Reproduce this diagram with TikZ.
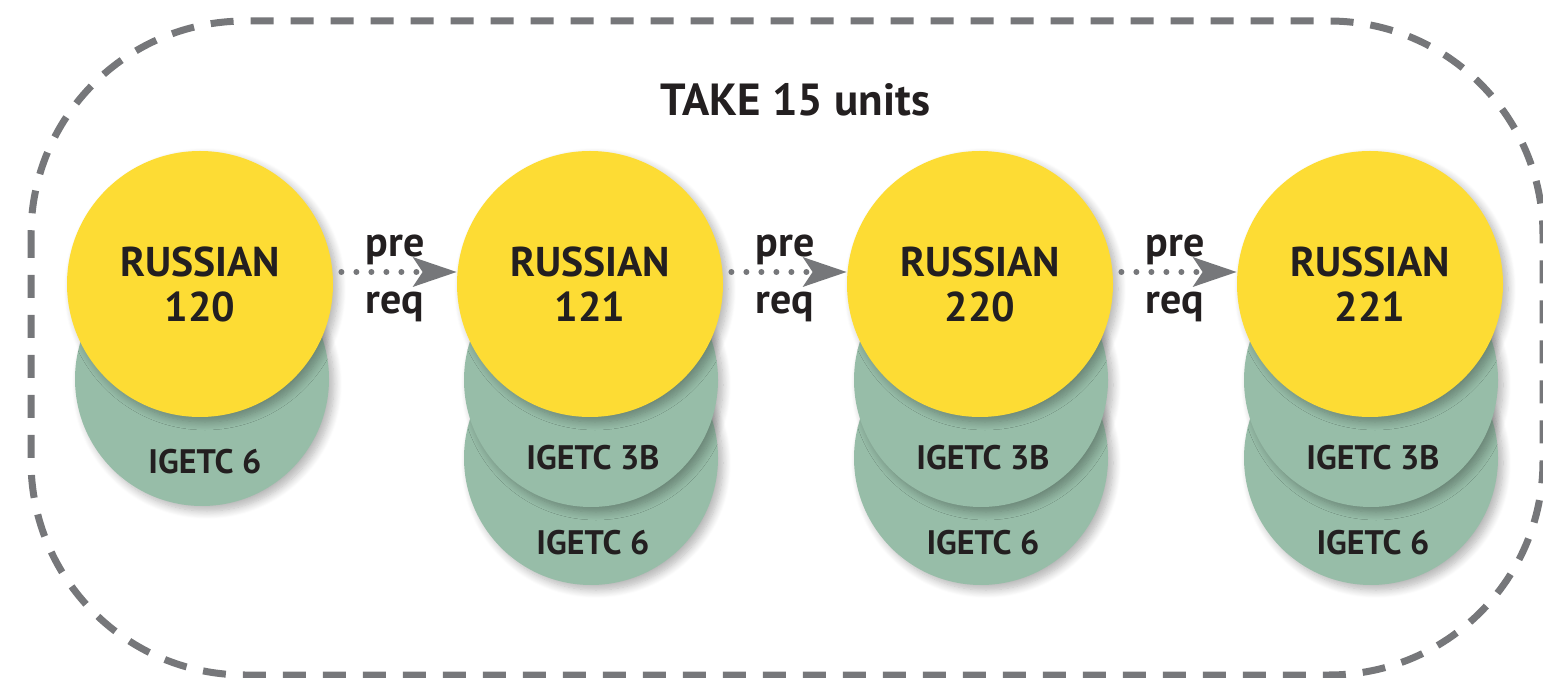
\documentclass[tikz,border=0pt]{standalone}
\usepackage{fontspec}
\setmainfont{PT Sans}
\usetikzlibrary{arrows.meta,shadows.blur}
\definecolor{cyellow}{HTML}{FDDC34}
\definecolor{cgreen}{HTML}{97BDA8}
\definecolor{cgray}{HTML}{76777A}
\definecolor{ctext}{HTML}{231F20}
\tikzset{
  course/.style={circle, fill=cyellow, minimum size=133pt, inner sep=0pt, text=ctext,
    font=\bfseries\fontsize{20.8}{22.5}\selectfont, align=center,
    blur shadow={shadow xshift=2.5pt, shadow yshift=-2.5pt, shadow blur steps=10, shadow opacity=30, shadow blur radius=4pt}},
  igetc/.style={circle, fill=cgreen, minimum size=127pt, inner sep=0pt,
    blur shadow={shadow xshift=2.5pt, shadow yshift=-2.5pt, shadow blur steps=10, shadow opacity=30, shadow blur radius=4pt}},
  igetclabel/.style={text=ctext, font=\bfseries\fontsize{17}{18}\selectfont, inner sep=0pt},
  prereq/.style={cgray, line width=3pt, line cap=round, dash pattern=on 0pt off 7.5pt,
    -{Stealth[length=22pt, width=15pt, inset=5pt, line width=0pt, round=false]}, shorten <=4pt},
  prelabel/.style={text=ctext, font=\bfseries\fontsize{21}{22}\selectfont, inner sep=0pt},
  boundary/.style={cgray, line width=3.5pt, dash pattern=on 11.5pt off 8.5pt, rounded corners=107pt}
}
\begin{document}
\begin{tikzpicture}[x=0.5pt, y=-0.5pt]
\useasboundingbox (0,0) rectangle (1543,678);
\draw[boundary] (31,21) rectangle (1543,675);
\node[text=ctext, font=\bfseries\fontsize{22.5}{24}\selectfont] (title) at (795,100) {TAKE 15 units};
% column 1
\node[igetc] (g1) at (202,379) {};
\node[course] (y1) at (200,284) {RUSSIAN\\120};
\node[igetclabel] (g1t) at (205,462) {IGETC 6};
% columns 2-4
\foreach \i/\x/\n in {2/590/121, 3/980/220, 4/1370/221} {
  \node[igetc] (gb\i) at (\x+1,458) {};
  \node[igetc] (ga\i) at (\x+1,380) {};
  \node[course] (y\i) at (\x,284) {RUSSIAN\\\n};
  \node[igetclabel] (gat\i) at (\x+3,458) {IGETC 3B};
  \node[igetclabel] (gbt\i) at (\x+3,543) {IGETC 6};
}
\foreach \a/\b in {1/2, 2/3, 3/4} {
  \draw[prereq] ([yshift=6pt]y\a.east) -- ([yshift=6pt]y\b.west)
    node[midway, yshift=11pt, prelabel] (pre\a) {pre}
    node[midway, yshift=-17.5pt, prelabel] (req\a) {req};
}
\end{tikzpicture}
\end{document}
